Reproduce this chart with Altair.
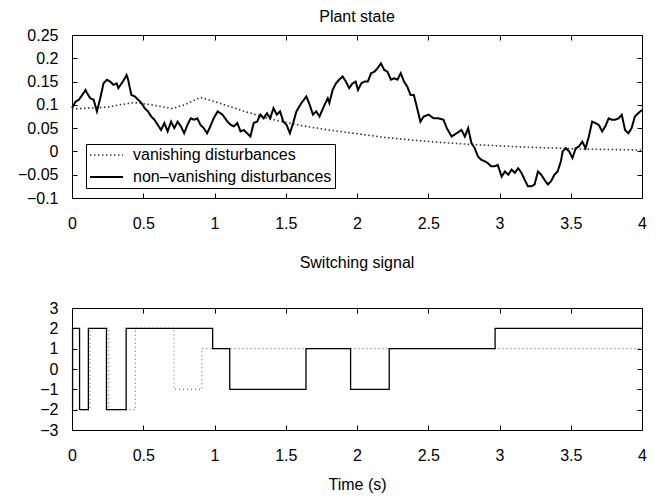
import altair as alt
import pandas as pd

FONT = "Liberation Sans"

# ---------------- Plant state ----------------
# non-vanishing disturbances (solid)
nv_t = [0.0, 0.025, 0.048, 0.071, 0.095, 0.106, 0.129, 0.152, 0.175, 0.198,
        0.221, 0.245, 0.268, 0.291, 0.314, 0.325, 0.348, 0.371, 0.383, 0.394,
        0.406, 0.417, 0.441, 0.464, 0.487, 0.510, 0.533, 0.556, 0.579, 0.602,
        0.625, 0.648, 0.671, 0.695, 0.718, 0.741, 0.764, 0.787, 0.810, 0.833,
        0.856, 0.879, 0.902, 0.925, 0.948, 0.971, 0.994,
        1.022, 1.056, 1.091, 1.114, 1.137, 1.160, 1.183, 1.206, 1.229, 1.252,
        1.275, 1.299, 1.322, 1.345, 1.368, 1.391, 1.414, 1.437, 1.460, 1.483,
        1.506, 1.529, 1.552, 1.575, 1.610, 1.645, 1.668, 1.691, 1.714, 1.737,
        1.772, 1.795, 1.806, 1.829, 1.852, 1.875, 1.899, 1.922, 1.945, 1.968, 1.991,
        2.007, 2.030, 2.053, 2.076, 2.099, 2.122, 2.145, 2.168, 2.191, 2.214,
        2.238, 2.261, 2.284, 2.307, 2.330, 2.353, 2.376, 2.399, 2.422, 2.445,
        2.468, 2.503, 2.537, 2.572, 2.607, 2.630, 2.664, 2.699, 2.733, 2.757,
        2.780, 2.803, 2.826, 2.849, 2.872, 2.895, 2.918, 2.941, 2.964, 2.988,
        3.015, 3.038, 3.062, 3.085, 3.108, 3.131, 3.154, 3.177, 3.200, 3.223,
        3.246, 3.270, 3.293, 3.316, 3.339, 3.362, 3.385, 3.408, 3.431, 3.443,
        3.466, 3.489, 3.512, 3.535, 3.558, 3.581, 3.604, 3.627, 3.650, 3.673,
        3.697, 3.720, 3.743, 3.766, 3.789, 3.812, 3.835, 3.858, 3.881, 3.904,
        3.927, 3.950, 3.973, 4.000]
nv_v = [0.093, 0.107, 0.111, 0.121, 0.132, 0.125, 0.114, 0.111, 0.086, 0.114,
        0.146, 0.154, 0.150, 0.143, 0.146, 0.136, 0.146, 0.157, 0.164, 0.154,
        0.136, 0.121, 0.118, 0.111, 0.104, 0.093, 0.086, 0.075, 0.068, 0.057,
        0.046, 0.061, 0.043, 0.064, 0.050, 0.064, 0.054, 0.039, 0.057, 0.071,
        0.068, 0.071, 0.057, 0.050, 0.039, 0.054, 0.071,
        0.086, 0.079, 0.064, 0.057, 0.054, 0.061, 0.043, 0.046, 0.039, 0.032,
        0.061, 0.064, 0.079, 0.071, 0.082, 0.071, 0.093, 0.079, 0.086, 0.064,
        0.057, 0.039, 0.061, 0.086, 0.104, 0.118, 0.100, 0.079, 0.086, 0.075,
        0.100, 0.114, 0.104, 0.132, 0.146, 0.154, 0.161, 0.150, 0.136, 0.146, 0.150,
        0.132, 0.146, 0.150, 0.150, 0.168, 0.171, 0.179, 0.189, 0.175, 0.171,
        0.154, 0.157, 0.154, 0.168, 0.150, 0.139, 0.121, 0.121, 0.093, 0.064,
        0.075, 0.079, 0.071, 0.071, 0.068, 0.050, 0.032, 0.039, 0.046, 0.032,
        0.050, 0.018, 0.007, -0.011, -0.018, -0.021, -0.025, -0.032, -0.032, -0.029,
        -0.054, -0.043, -0.050, -0.039, -0.046, -0.036, -0.046, -0.061, -0.075, -0.075,
        -0.071, -0.043, -0.050, -0.061, -0.071, -0.064, -0.050, -0.043, -0.021, 0.000,
        0.007, 0.000, -0.014, 0.007, 0.011, 0.021, 0.007, 0.032, 0.064, 0.061,
        0.057, 0.043, 0.054, 0.071, 0.068, 0.068, 0.071, 0.079, 0.046, 0.039,
        0.050, 0.075, 0.082, 0.089]

# vanishing disturbances (dotted)
va_t = [0.0, 0.12, 0.25, 0.33, 0.44, 0.56, 0.70, 0.79, 0.90, 0.95, 1.0,
        1.2, 1.4, 1.6, 1.8, 2.0, 2.2, 2.4, 2.6, 2.8, 3.0, 3.2, 3.4, 3.6, 3.8, 4.0]
va_v = [0.091, 0.093, 0.095, 0.100, 0.105, 0.100, 0.092, 0.100, 0.116, 0.112, 0.107,
        0.087, 0.069, 0.056, 0.046, 0.038, 0.030, 0.024, 0.019, 0.015, 0.012,
        0.009, 0.007, 0.005, 0.004, 0.003]

# ---------------- Switching signal ----------------
sw_nv_t = [0.0, 0.004, 0.053, 0.115, 0.242, 0.380, 0.987, 1.107, 1.642, 1.955, 2.226, 2.969, 4.0]
sw_nv_v = [-2, 2, -2, 2, -2, 2, 1, -1, 1, -1, 1, 2, 2]
sw_va_t = [0.0, 0.127, 0.258, 0.445, 0.715, 0.911, 4.0]
sw_va_v = [-2, 2, -2, 2, -1, 1, 1]

x_ticks = [0, 0.5, 1, 1.5, 2, 2.5, 3, 3.5, 4]
y1_ticks = [-0.1, -0.05, 0, 0.05, 0.1, 0.15, 0.2, 0.25]
y2_ticks = [-3, -2, -1, 0, 1, 2, 3]

LAB_V = "vanishing disturbances"
LAB_NV = "non\u2013vanishing disturbances"
series_dom = [LAB_V, LAB_NV]

top_df = pd.concat([
    pd.DataFrame({"t": va_t, "v": va_v, "series": LAB_V}),
    pd.DataFrame({"t": nv_t, "v": nv_v, "series": LAB_NV}),
], ignore_index=True)
sw_nv_df = pd.DataFrame({"t": sw_nv_t, "v": sw_nv_v})
sw_va_df = pd.DataFrame({"t": sw_va_t, "v": sw_va_v})


def label_axis(orient, values, pad, title=None):
    kw = dict(orient=orient, values=values, format="~g", ticks=False, domain=False,
              grid=False, labelPadding=pad, labelFontSize=16, labelFont=FONT,
              labelColor="black", labelFlush=False, labelOverlap=False)
    if title is None:
        kw["title"] = None
    else:
        kw.update(title=title, titleFont=FONT, titleFontSize=16, titleFontWeight="normal",
                  titleColor="black", titlePadding=13)
    return alt.Axis(**kw)


def tick_axis(orient, values):
    return alt.Axis(orient=orient, values=values, labels=False, ticks=True, tickSize=5,
                    tickColor="black", tickWidth=1, domain=False, grid=False, title=None,
                    offset=-5, minExtent=0)


W = 570
xs = alt.Scale(domain=[0, 4], nice=False, zero=False)
ys1 = alt.Scale(domain=[-0.1, 0.25], nice=False, zero=False)
ys2 = alt.Scale(domain=[-3, 3], nice=False, zero=False)

leg = alt.Legend(title=None, orient="none", legendX=14, legendY=109, strokeColor="black",
                 fillColor="white", padding=3, labelFontSize=16, labelFont=FONT,
                 labelColor="black", symbolType="stroke", symbolSize=1089, labelOffset=9,
                 rowPadding=6, clipHeight=16, cornerRadius=0, labelLimit=400)

top_lines = alt.Chart(top_df).mark_line().encode(
    x=alt.X("t:Q", scale=xs, axis=label_axis("bottom", x_ticks, 17)),
    y=alt.Y("v:Q", scale=ys1, axis=label_axis("left", y1_ticks, 14)),
    color=alt.Color("series:N", scale=alt.Scale(domain=series_dom, range=["#333333", "#000000"]), legend=leg),
    strokeDash=alt.StrokeDash("series:N", scale=alt.Scale(domain=series_dom, range=[[1.5, 2.5], [1, 0]]), legend=leg),
    strokeWidth=alt.StrokeWidth("series:N", scale=alt.Scale(domain=series_dom, range=[1.6, 2.0]), legend=leg),
)
top_t1 = alt.Chart(top_df).mark_line(opacity=0).encode(
    x=alt.X("t:Q", scale=xs, axis=tick_axis("bottom", x_ticks)),
    y=alt.Y("v:Q", scale=ys1, axis=tick_axis("left", y1_ticks)),
)
top_t2 = alt.Chart(top_df).mark_line(opacity=0).encode(
    x=alt.X("t:Q", scale=xs, axis=tick_axis("top", x_ticks)),
    y=alt.Y("v:Q", scale=ys1, axis=tick_axis("right", y1_ticks)),
)
top = alt.layer(top_lines, top_t1, top_t2).resolve_axis(x="independent", y="independent").properties(
    width=W, height=163, title=alt.Title("Plant state", offset=2.5))

bot_va = alt.Chart(sw_va_df).mark_line(interpolate="step-after", color="#777777", strokeWidth=1.2,
                                       strokeDash=[1, 3]).encode(
    x=alt.X("t:Q", scale=xs, axis=label_axis("bottom", x_ticks, 17, title="Time (s)")),
    y=alt.Y("v:Q", scale=ys2, axis=label_axis("left", y2_ticks, 14)),
)
bot_nv = alt.Chart(sw_nv_df).mark_line(interpolate="step-after", color="black", strokeWidth=1.3).encode(
    x=alt.X("t:Q", scale=xs, axis=tick_axis("bottom", x_ticks)),
    y=alt.Y("v:Q", scale=ys2, axis=tick_axis("left", y2_ticks)),
)
bot_t2 = alt.Chart(sw_nv_df).mark_line(opacity=0).encode(
    x=alt.X("t:Q", scale=xs, axis=tick_axis("top", x_ticks)),
    y=alt.Y("v:Q", scale=ys2, axis=tick_axis("right", y2_ticks)),
)
bottom = alt.layer(bot_va, bot_nv, bot_t2).resolve_axis(x="independent", y="independent").properties(
    width=W, height=122, title=alt.Title("Switching signal", offset=29.5))

chart = alt.vconcat(top, bottom, spacing=22).properties(
    padding={"left": 9, "top": 0, "right": 0, "bottom": 0}
).configure_view(stroke="black", strokeWidth=1).configure_title(
    font=FONT, fontSize=16, fontWeight="normal", color="black")

chart.save("out.html", embed_options={"renderer": "svg", "actions": False})
